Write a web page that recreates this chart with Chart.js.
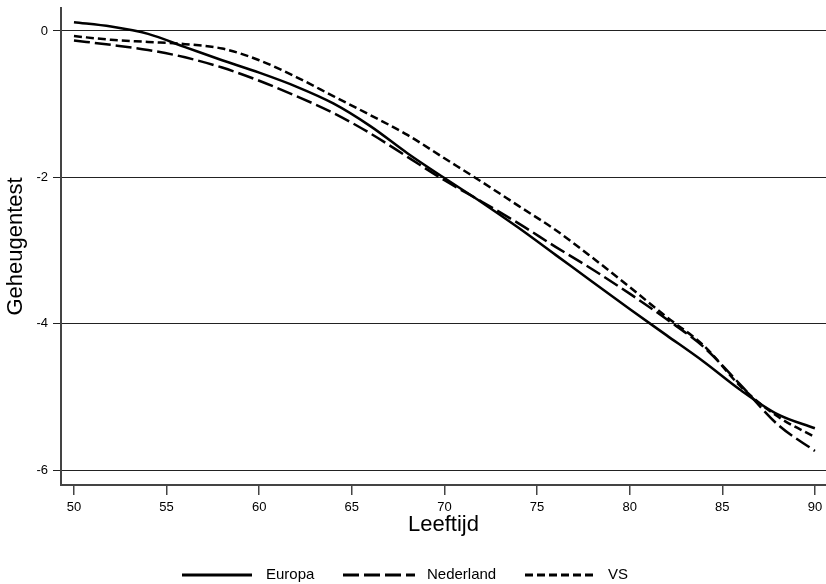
<!DOCTYPE html>
<html>
<head>
<meta charset="utf-8">
<script src="https://cdn.jsdelivr.net/npm/chart.js@4/dist/chart.umd.min.js"></script>
<style>
  html, body { margin: 0; padding: 0; background: #fff; }
  #wrap { width: 826px; height: 584px; }
</style>
</head>
<body>
<div id="wrap"><canvas id="c" width="826" height="584"></canvas></div>
<script>
const ages = [50, 52, 54, 56, 58, 60, 62, 64, 66, 68, 70, 72, 74, 76, 78, 80, 82, 84, 86, 88, 90];
const europa = [0.12, 0.06, -0.04, -0.22, -0.40, -0.57, -0.76, -0.99, -1.30, -1.67, -2.01, -2.34, -2.69, -3.06, -3.43, -3.80, -4.16, -4.52, -4.91, -5.24, -5.43];
const nederland = [-0.13, -0.19, -0.26, -0.36, -0.50, -0.68, -0.89, -1.12, -1.40, -1.72, -2.04, -2.33, -2.63, -2.95, -3.26, -3.59, -3.94, -4.32, -4.84, -5.38, -5.74];
const vs = [-0.07, -0.12, -0.15, -0.18, -0.24, -0.40, -0.63, -0.89, -1.15, -1.42, -1.74, -2.06, -2.39, -2.72, -3.10, -3.50, -3.91, -4.30, -4.86, -5.27, -5.55];
const seriesNames = ['Europa', 'Nederland', 'VS'];
const xTitle = 'Leeftijd';
const yTitle = 'Geheugentest';

const FONT = "'Liberation Sans', Arial, sans-serif";
const dashes = [[], [16, 5], [8, 4]];
const allSeries = [europa, nederland, vs];

const datasets = allSeries.map((vals, i) => ({
  label: seriesNames[i],
  data: ages.map((a, j) => ({ x: a, y: vals[j] })),
  borderColor: '#000',
  borderWidth: 2.5,
  borderDash: dashes[i],
  pointRadius: 0,
  fill: false,
  cubicInterpolationMode: 'monotone'
}));

const overlay = {
  id: 'overlay',
  afterDraw(chart) {
    const ctx = chart.ctx;
    const ca = chart.chartArea;
    ctx.save();
    ctx.fillStyle = '#000';
    // axis titles
    ctx.font = '22px ' + FONT;
    ctx.textAlign = 'center';
    ctx.textBaseline = 'middle';
    ctx.fillText(xTitle, (ca.left + ca.right) / 2, 525);
    ctx.save();
    ctx.translate(16, (ca.top + ca.bottom) / 2);
    ctx.rotate(-Math.PI / 2);
    ctx.fillText(yTitle, 0, 0);
    ctx.restore();
    // legend
    const lx = [[182, 252, 266], [343, 415, 427], [525, 595, 608]];
    const ly = 575;
    ctx.font = '15px ' + FONT;
    ctx.textAlign = 'left';
    lx.forEach((p, i) => {
      ctx.beginPath();
      ctx.setLineDash(dashes[i]);
      ctx.lineWidth = 2.8;
      ctx.strokeStyle = '#000';
      ctx.moveTo(p[0], ly);
      ctx.lineTo(p[1], ly);
      ctx.stroke();
      ctx.setLineDash([]);
      ctx.fillText(seriesNames[i], p[2], ly);
    });
    ctx.restore();
  }
};

new Chart(document.getElementById('c'), {
  type: 'line',
  data: { datasets },
  options: {
    responsive: false,
    animation: false,
    layout: { padding: { top: 8, right: 0, bottom: 45, left: 0 } },
    plugins: { legend: { display: false }, tooltip: { enabled: false } },
    scales: {
      x: {
        type: 'linear',
        min: 49.3,
        max: 90.6,
        afterFit(s) { s.height = 54; s.paddingLeft = 0; s.paddingRight = 0; },
        border: { display: true, color: '#444', width: 2 },
        grid: { display: true, drawOnChartArea: false, drawTicks: true, tickLength: 10, color: '#444', lineWidth: 1.5 },
        ticks: { stepSize: 5, includeBounds: false, color: '#000', font: { family: FONT, size: 13 }, padding: 5, maxRotation: 0 }
      },
      y: {
        type: 'linear',
        min: -6.205,
        max: 0.314,
        afterFit(s) { s.width = 61; s.paddingTop = 0; s.paddingBottom = 0; },
        border: { display: true, color: '#444', width: 2 },
        grid: { display: true, drawOnChartArea: true, drawTicks: true, tickLength: 8, color: '#222', lineWidth: 1 },
        ticks: { stepSize: 2, includeBounds: false, color: '#000', font: { family: FONT, size: 13 }, padding: 5 }
      }
    }
  },
  plugins: [overlay]
});
</script>
</body>
</html>
